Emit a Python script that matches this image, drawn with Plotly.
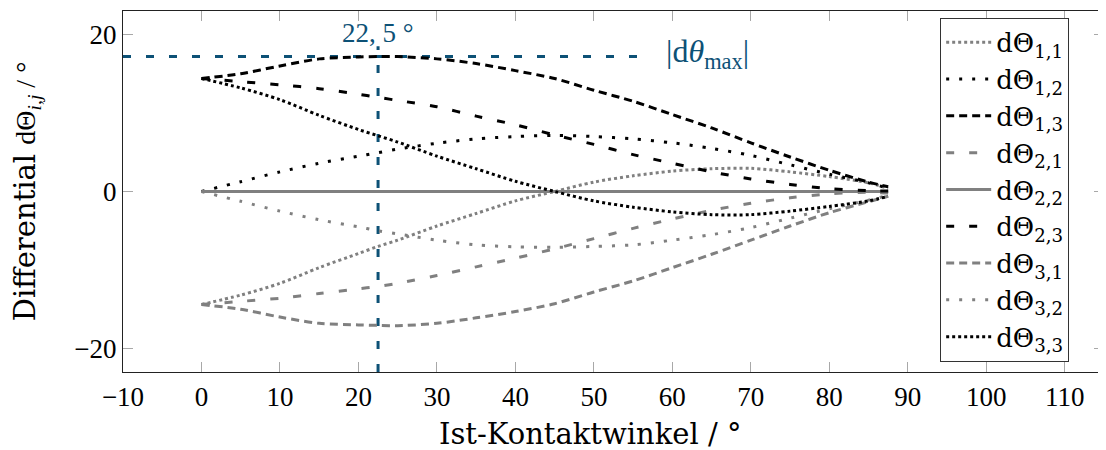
import plotly.graph_objects as go

# ---------------- data ----------------
X = [0, 5, 10, 15, 20, 22.5, 25, 30, 35, 40, 45, 50, 55, 60, 65, 70, 75, 80, 85, 87.5]

d11 = [-14.4, -13.2, -11.7, -9.7, -7.9, -7.0, -6.2, -4.4, -2.8, -1.2, 0.0, 1.2, 2.0, 2.6, 2.9, 2.95, 2.5, 1.9, 1.1, 0.4]
d12 = [0.0, 1.25, 2.5, 3.6, 4.5, 4.95, 5.4, 6.15, 6.7, 7.0, 7.15, 7.0, 6.7, 6.2, 5.5, 4.6, 3.4, 2.2, 1.1, 0.4]
d13 = [14.4, 15.0, 16.0, 16.9, 17.15, 17.2, 17.2, 16.9, 16.3, 15.4, 14.4, 12.9, 11.5, 9.8, 8.1, 6.2, 4.4, 2.7, 1.2, 0.6]
d21 = [-14.4, -14.0, -13.6, -13.0, -12.4, -12.1, -11.7, -10.7, -9.6, -8.5, -7.3, -6.0, -4.7, -3.5, -2.4, -1.5, -0.8, -0.3, -0.1, -0.2]
d22 = [0.0, 0.0, 0.0, 0.0, 0.0, 0.0, 0.0, 0.0, 0.0, 0.0, 0.0, 0.0, 0.0, 0.0, 0.0, 0.0, 0.0, 0.0, 0.0, 0.0]
d23 = [14.4, 14.0, 13.6, 13.1, 12.4, 12.0, 11.6, 10.8, 9.6, 8.5, 7.2, 6.0, 4.7, 3.6, 2.5, 1.6, 0.9, 0.35, 0.1, 0.05]
d31 = [-14.4, -15.0, -16.0, -16.8, -17.0, -17.05, -17.1, -16.8, -16.1, -15.3, -14.3, -12.8, -11.4, -9.7, -8.0, -6.2, -4.4, -2.7, -1.3, -0.6]
d32 = [0.0, -1.25, -2.5, -3.6, -4.5, -5.0, -5.4, -6.2, -6.8, -7.05, -7.1, -7.0, -6.8, -6.2, -5.5, -4.6, -3.4, -2.2, -1.1, -0.5]
d33 = [14.4, 13.2, 11.7, 9.7, 7.9, 7.1, 6.3, 4.5, 2.9, 1.3, 0.0, -1.2, -2.0, -2.6, -2.95, -2.95, -2.5, -1.9, -1.2, -0.6]

series_names = ["1,1", "1,2", "1,3", "2,1", "2,2", "2,3", "3,1", "3,2", "3,3"]
series_values = [d11, d12, d13, d21, d22, d23, d31, d32, d33]

DTHETA_MAX = 17.2
ANGLE_MARK = 22.5
HLINE_X = [-10, 57.3]
VLINE_Y = [-23, 18.5]

X_TICKS = [-10, 0, 10, 20, 30, 40, 50, 60, 70, 80, 90, 100, 110]
Y_TICKS = [-20, 0, 20]

# ---------------- styles ----------------
GRAY = "#808080"
BLACK = "#000000"
BLUE = "#0d5176"
styles = {
    "1,1": (GRAY, "3px,3px"),
    "1,2": (BLACK, "3px,10px"),
    "1,3": (BLACK, "8px,5px"),
    "2,1": (GRAY, "8px,15px"),
    "2,2": (GRAY, "solid"),
    "2,3": (BLACK, "8px,15px"),
    "3,1": (GRAY, "8px,5px"),
    "3,2": (GRAY, "3px,10px"),
    "3,3": (BLACK, "3px,3px"),
}

SERIF = "Liberation Serif, DejaVu Serif, serif"
TEXTSERIF = "DejaVu Serif, Liberation Serif, serif"

fig = go.Figure()

# blue helper lines
fig.add_trace(go.Scatter(x=HLINE_X, y=[DTHETA_MAX, DTHETA_MAX], mode="lines",
                         line=dict(color=BLUE, width=3, dash="8px,15px"),
                         showlegend=False, hoverinfo="skip"))
fig.add_trace(go.Scatter(x=[ANGLE_MARK, ANGLE_MARK], y=VLINE_Y, mode="lines",
                         line=dict(color=BLUE, width=3, dash="8px,15px"),
                         showlegend=False, hoverinfo="skip"))

for name, vals in zip(series_names, series_values):
    color, dash = styles[name]
    fig.add_trace(go.Scatter(
        x=X, y=vals, mode="lines", name=f"dΘ<sub>{name}</sub>",
        line=dict(color=color, width=3, dash=dash, shape="spline", smoothing=0.8),
    ))

fig.add_annotation(x=ANGLE_MARK, y=VLINE_Y[1], text="22, 5 °", showarrow=False,
                   xanchor="center", yanchor="bottom", yshift=-4,
                   font=dict(family=SERIF, size=27, color=BLUE))
fig.add_annotation(x=59.3, y=DTHETA_MAX, text="|d<i>θ</i><sub>max</sub>|", showarrow=False,
                   xanchor="left", yanchor="middle", xshift=-3, yshift=3,
                   font=dict(family=SERIF, size=32, color=BLUE))

# x-axis title (placed as in the reference, slightly left of the plot centre)
fig.add_annotation(xref="paper", yref="paper", x=0.476, y=-0.172,
                   xanchor="center", yanchor="middle", showarrow=False,
                   text="Ist-Kontaktwinkel / °",
                   font=dict(family=TEXTSERIF, size=29, color="black"))

axis_common = dict(
    showline=True, linecolor="#222222", linewidth=1.3, mirror="ticks",
    ticks="inside", ticklen=10, tickwidth=1.3, tickcolor="#a8a8a8",
    showgrid=False, zeroline=False, automargin=False,
    tickfont=dict(family=SERIF, size=27, color="black"),
)

fig.update_xaxes(range=[-10, 115], tickvals=X_TICKS, **axis_common)
fig.update_yaxes(range=[-23, 23], tickvals=Y_TICKS, **axis_common,
                 title=dict(text="Differential <span style='font-family:Liberation Serif;font-size:28px'>dΘ<sub><i>i,j</i></sub> / °</span>",
                            standoff=32,
                            font=dict(family=TEXTSERIF, size=29, color="black")))

fig.update_layout(
    width=1098, height=442,
    margin=dict(l=115, r=2, t=3, b=78),
    plot_bgcolor="white", paper_bgcolor="white",
    legend=dict(x=0.833, y=0.981, xanchor="left", yanchor="top",
                bgcolor="white", bordercolor="#333333", borderwidth=1,
                itemwidth=45,
                font=dict(family=TEXTSERIF, size=26, color="black")),
)

fig.write_html("out.html")
